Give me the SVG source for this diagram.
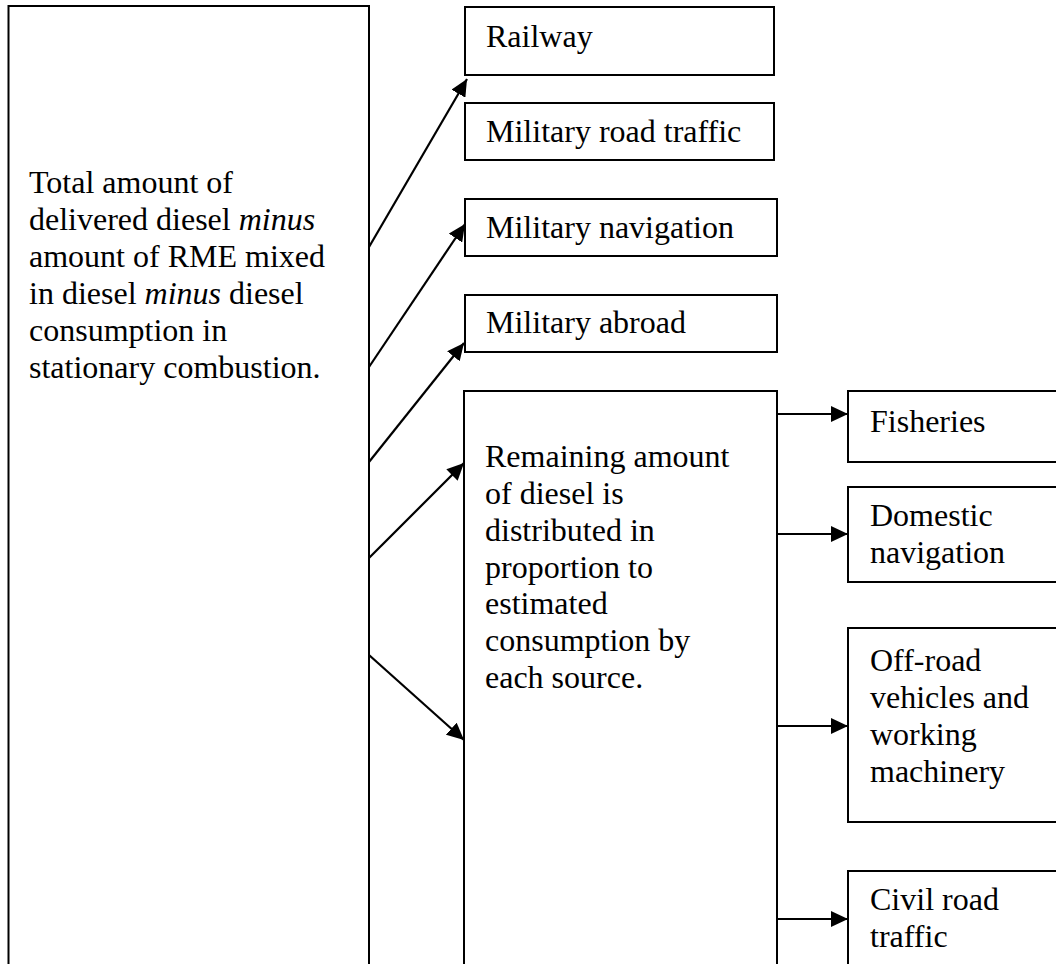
<svg xmlns="http://www.w3.org/2000/svg" width="1056" height="964" viewBox="0 0 1056 964">
<style>
.box{fill:#fff;stroke:#000;stroke-width:2}
.t{font-family:"Liberation Serif","Times New Roman",serif;font-size:32px;fill:#000}
.c{stroke:#000;stroke-width:2.2;fill:none;marker-end:url(#ah)}
.i{font-style:italic}
</style>
<defs>
<marker id="ah" markerUnits="userSpaceOnUse" markerWidth="17" markerHeight="16" refX="17" refY="8" orient="auto">
<path d="M0,0 L17,8 L0,16 z" fill="#000"/>
</marker>
</defs>
<g id="total">
<rect class="box" x="8.5" y="6" width="360.5" height="970"/>
<text class="t" x="29" y="193">Total amount of</text>
<text class="t" x="29" y="230">delivered diesel <tspan class="i">minus</tspan></text>
<text class="t" x="29" y="267">amount of RME mixed</text>
<text class="t" x="29" y="304">in diesel <tspan class="i">minus</tspan> diesel</text>
<text class="t" x="29" y="341">consumption in</text>
<text class="t" x="29" y="378">stationary combustion.</text>
</g>
<g id="railway">
<rect class="box" x="465" y="7" width="309" height="68"/>
<text class="t" x="486" y="47">Railway</text>
</g>
<g id="military-road">
<rect class="box" x="465" y="103" width="309" height="57"/>
<text class="t" x="486" y="142">Military road traffic</text>
</g>
<g id="military-navigation">
<rect class="box" x="465" y="199" width="312" height="57"/>
<text class="t" x="486" y="238">Military navigation</text>
</g>
<g id="military-abroad">
<rect class="box" x="465" y="295" width="312" height="57"/>
<text class="t" x="486" y="333">Military abroad</text>
</g>
<g id="remaining">
<rect class="box" x="464" y="391" width="313" height="590"/>
<text class="t" x="485" y="467">Remaining amount</text>
<text class="t" x="485" y="504">of diesel is</text>
<text class="t" x="485" y="541">distributed in</text>
<text class="t" x="485" y="578">proportion to</text>
<text class="t" x="485" y="614">estimated</text>
<text class="t" x="485" y="651">consumption by</text>
<text class="t" x="485" y="688">each source.</text>
</g>
<g id="fisheries">
<rect class="box" x="848" y="391" width="220" height="71"/>
<text class="t" x="870" y="432">Fisheries</text>
</g>
<g id="domestic">
<rect class="box" x="848" y="487" width="220" height="95"/>
<text class="t" x="870" y="526">Domestic</text>
<text class="t" x="870" y="563">navigation</text>
</g>
<g id="offroad">
<rect class="box" x="848" y="628" width="220" height="194"/>
<text class="t" x="870" y="671">Off-road</text>
<text class="t" x="870" y="708">vehicles and</text>
<text class="t" x="870" y="745">working</text>
<text class="t" x="870" y="782">machinery</text>
</g>
<g id="civil">
<rect class="box" x="848" y="871" width="220" height="110"/>
<text class="t" x="870" y="910">Civil road</text>
<text class="t" x="870" y="947">traffic</text>
</g>
<g id="connectors">
<line class="c" x1="369" y1="247" x2="467" y2="79"/>
<line class="c" x1="369" y1="367" x2="465" y2="224"/>
<line class="c" x1="369" y1="462" x2="464" y2="343"/>
<line class="c" x1="369" y1="558" x2="464" y2="463"/>
<line class="c" x1="369" y1="655" x2="464" y2="740"/>
<line class="c" x1="777" y1="414" x2="848" y2="414"/>
<line class="c" x1="777" y1="534" x2="848" y2="534"/>
<line class="c" x1="777" y1="726" x2="848" y2="726"/>
<line class="c" x1="777" y1="919" x2="848" y2="919"/>
</g>
</svg>
